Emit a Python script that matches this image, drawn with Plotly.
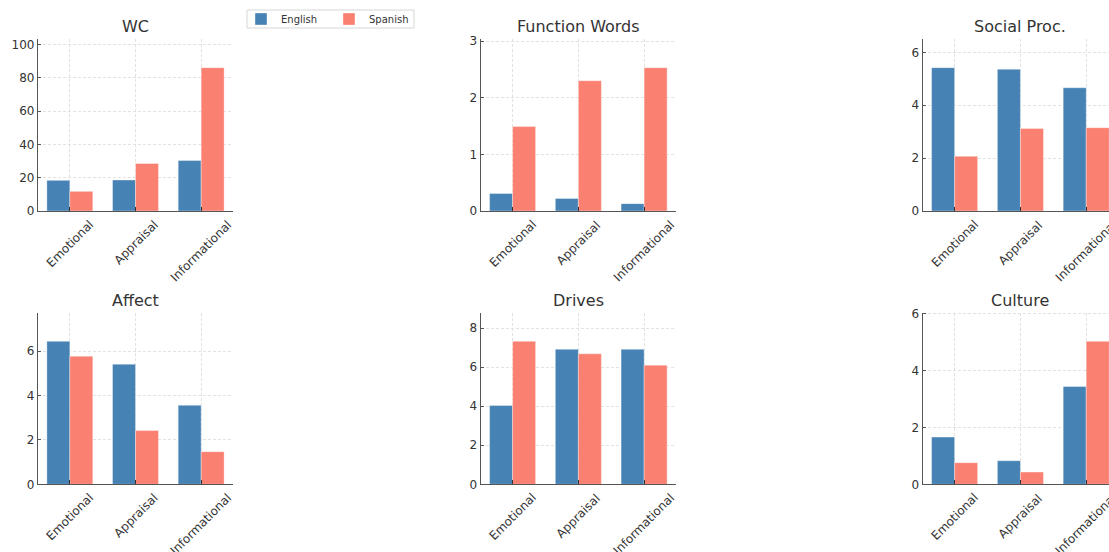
import plotly.graph_objects as go
from plotly.subplots import make_subplots

categories = ["Emotional", "Appraisal", "Informational"]
metrics = ["WC", "Function Words", "Social Proc.", "Affect", "Drives", "Culture"]

english_wc = [18.4, 18.6, 30.3]
spanish_wc = [11.8, 28.5, 86.0]
english_function = [0.31, 0.22, 0.13]
spanish_function = [1.49, 2.30, 2.53]
english_social = [5.42, 5.36, 4.66]
spanish_social = [2.07, 3.12, 3.15]
english_affect = [6.44, 5.41, 3.56]
spanish_affect = [5.77, 2.42, 1.47]
english_drives = [4.03, 6.91, 6.91]
spanish_drives = [7.32, 6.68, 6.10]
english_culture = [1.66, 0.83, 3.44]
spanish_culture = [0.76, 0.43, 5.03]

english = [english_wc, english_function, english_social,
           english_affect, english_drives, english_culture]
spanish = [spanish_wc, spanish_function, spanish_social,
           spanish_affect, spanish_drives, spanish_culture]
dticks = [20, 1, 2, 2, 2, 2]

W, H = 1109, 552
BLUE = "#4682B4"
SALMON = "#FA8072"
FONT = "DejaVu Sans"
TXT = "#333333"

# pixel geometry of the axes boxes
col_px = [(38, 233), (480.7, 676), (922.7, 1109)]
row_px = [(39, 211), (312.7, 484.3)]
cat_step = 65.8  # px per category unit

fig = make_subplots(rows=2, cols=3)

annotations = []
for i, name in enumerate(metrics):
    r, c = divmod(i, 3)
    axn = "" if i == 0 else str(i + 1)
    x0, x1 = col_px[c]
    y0, y1 = row_px[r]
    xdom = [x0 / W, min(x1 / W, 1.0)]
    ydom = [1 - y1 / H, 1 - y0 / H]
    xr0 = -0.485
    xr1 = xr0 + (x1 - x0) / cat_step if c == 2 else 2.485

    fig.add_trace(go.Bar(x=categories, y=english[i], name="English",
                         marker=dict(color=BLUE, line=dict(width=0.6, color="rgba(255,255,255,0.6)")),
                         showlegend=(i == 0), legendgroup="en"), row=r + 1, col=c + 1)
    fig.add_trace(go.Bar(x=categories, y=spanish[i], name="Spanish",
                         marker=dict(color=SALMON, line=dict(width=0.6, color="rgba(255,255,255,0.6)")),
                         showlegend=(i == 0), legendgroup="es"), row=r + 1, col=c + 1)

    ymax = 1.2 * max(max(english[i]), max(spanish[i]))
    fig.layout["xaxis" + axn].update(
        domain=xdom, range=[xr0, xr1], type="category", automargin=False,
        showline=True, linecolor="#555555", linewidth=1.3,
        ticks="inside", ticklen=4, tickcolor="#333333", tickwidth=1,
        showticklabels=False,
        showgrid=True, gridcolor="#e2e2e2", griddash="3px,2px", gridwidth=0.8,
        zeroline=False)
    fig.layout["yaxis" + axn].update(
        domain=ydom, range=[0, ymax], dtick=dticks[i], tick0=0, automargin=False,
        showline=True, linecolor="#555555", linewidth=1.3,
        ticks="inside", ticklen=3, tickcolor="#555555",
        tickfont=dict(family=FONT, size=12, color=TXT),
        showgrid=True, gridcolor="#e2e2e2", griddash="3px,2px", gridwidth=0.8,
        zeroline=False)

    annotations.append(dict(
        text=name, xref="paper", yref="paper",
        x=(x0 + (x0 + 195)) / 2 / W, y=ydom[1], xanchor="center", yanchor="bottom",
        yshift=1, showarrow=False, font=dict(family=FONT, size=16, color=TXT)))
    for cat in categories:
        annotations.append(dict(
            text=cat, xref="x" + axn, yref="paper", x=cat, y=ydom[0],
            xanchor="center", yanchor="top", textangle=-45, yshift=-4,
            showarrow=False, font=dict(family=FONT, size=12, color=TXT)))

# legend frame
shapes = [dict(type="rect", xref="paper", yref="paper",
               x0=247 / W, x1=414 / W, y0=1 - 28 / H, y1=1 - 10 / H,
               line=dict(color="#d6d6d6", width=1), fillcolor="white", layer="below")]

fig.update_layout(
    width=W, height=H,
    margin=dict(l=0, r=0, t=0, b=0, autoexpand=False),
    barmode="group", bargap=0.3, bargroupgap=0,
    plot_bgcolor="white", paper_bgcolor="white",
    font=dict(family=FONT, size=12, color=TXT),
    annotations=annotations,
    shapes=shapes,
    legend=dict(orientation="h", x=241 / W, y=1 - 4.5 / H, xanchor="left", yanchor="top",
                borderwidth=0, bgcolor="rgba(0,0,0,0)", entrywidth=43,
                font=dict(family=FONT, size=10, color=TXT)),
)

fig.write_html("out.html", config={"displayModeBar": False},
               post_script="document.body.style.margin='0';document.body.style.overflow='hidden';")
